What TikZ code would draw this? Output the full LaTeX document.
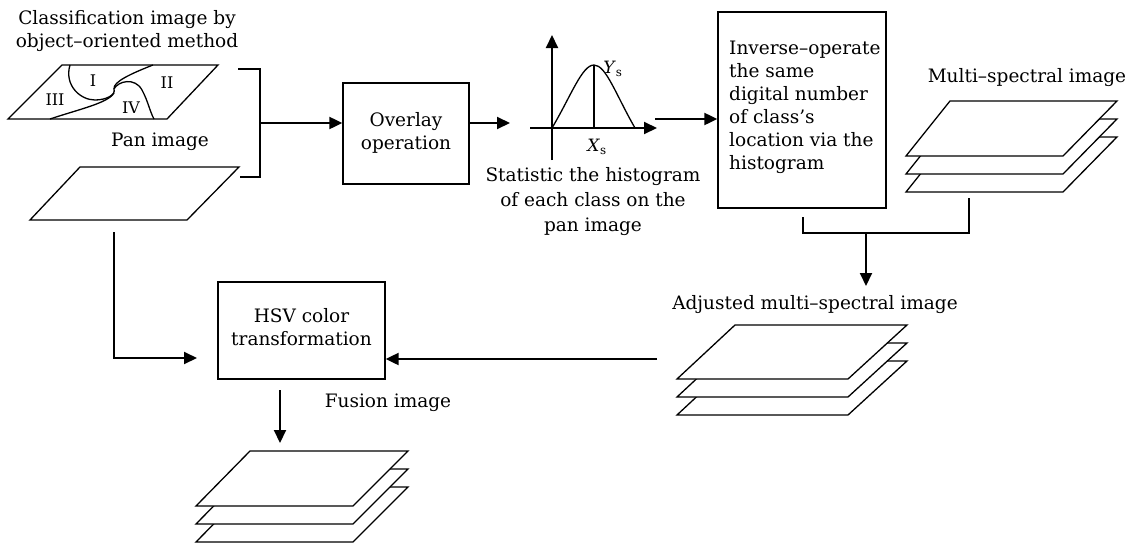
\documentclass[tikz,border=0pt]{standalone}
\usepackage{fontspec}
\setmainfont{DejaVu Serif}
\usetikzlibrary{arrows.meta}
\begin{document}
\begin{tikzpicture}[x=1pt,y=-1pt,
  txt/.style={font=\fontsize{18.5}{23}\selectfont, align=center, inner sep=0pt},
  small/.style={font=\fontsize{16}{18}\selectfont, inner sep=0pt},
  box/.style={draw, line width=1.3pt, inner sep=0pt},
  sheet/.style={draw, fill=white, line width=1.3pt, line join=miter},
  thin/.style={line width=1.3pt},
  arr/.style={line width=2pt, -{Triangle[length=13pt,width=12pt]}},
  link/.style={line width=1.5pt}]
\useasboundingbox (0,0) rectangle (1128,544);

% ---------- classification image ----------
\node[txt] (cls) at (127,31.5) {Classification image by\\object–oriented method};
\draw[sheet] (62,65) -- (218,65) -- (167,119) -- (8,119) -- cycle;
\draw[thin] (70,65) .. controls (64,85) and (80,100) .. (95,100)
            .. controls (106,100) and (116,95) .. (114,89)
            .. controls (113,82) and (130,74) .. (153,65);
\draw[thin] (50,119) .. controls (80,109) and (108,103) .. (114,93);
\draw[thin] (114,89) .. controls (118,81) and (135,77) .. (142,90)
            .. controls (148,101) and (150,112) .. (154,119);
\node[small] (r1) at (93,81) {I};
\node[small] (r2) at (167,83) {II};
\node[small] (r3) at (55,100) {III};
\node[small] (r4) at (131,108) {IV};

% ---------- pan image ----------
\node[txt] (pan) at (160,142) {Pan image};
\draw[sheet] (80,167) -- (239,167) -- (187,220) -- (30,220) -- cycle;
\coordinate (panout) at (114,232);

% ---------- bracket and overlay ----------
\coordinate (b1) at (260,123);
\draw[link] (238,69) -- (260,69) -- (260,177) -- (240,177);
\node[box, minimum width=126, minimum height=101] (ov) at (406,133.5) {};
\node[txt] (ovt) at (406,133) {Overlay\\operation};
\draw[arr] (b1) -- (ov.west |- b1);
\coordinate (ovout) at (469,123);
\coordinate (histin) at (510,123);
\draw[arr] (ovout) -- (histin);

% ---------- histogram ----------
\coordinate (o) at (552,128);
\coordinate (ytop) at (552,35);
\coordinate (ybot) at (552,160);
\coordinate (xl) at (530,128);
\coordinate (xr) at (657,128);
\coordinate (pk) at (594,65);
\draw[arr] (ybot) -- (ytop);
\draw[arr] (xl) -- (xr);
\draw[thin] (o) .. controls (571,96) and (582,65) .. (pk)
            .. controls (606,65) and (616,95) .. (635,128);
\draw[thin] (pk) -- (594,128);
\node[font=\fontsize{17}{18}\selectfont, inner sep=0pt] (ys) at (613,69) {\textit{Y}\textsubscript{s}};
\node[font=\fontsize{17}{18}\selectfont, inner sep=0pt] (xs) at (597,147) {\textit{X}\textsubscript{s}};
\node[txt, font=\fontsize{18.5}{25}\selectfont] (stat) at (593,202) {Statistic the histogram\\of each class on the\\pan image};

% ---------- inverse operation ----------
\node[box, minimum width=168, minimum height=196] (inv) at (802,110) {};
\node[txt, align=left, anchor=west] (invt) at (729,107)
  {Inverse–operate\\the same\\digital number\\of class’s\\location via the\\histogram};
\coordinate (histout) at (655,119);
\draw[arr] (histout) -- (inv.west |- histout);

% ---------- multi-spectral image ----------
\node[txt] (ms) at (1027,78) {Multi–spectral image};
\foreach \d in {36,18,0}
  \draw[sheet] (950,101+\d) -- (1117,101+\d) -- (1063,156+\d) -- (906,156+\d) -- cycle;

% ---------- merge to adjusted ----------
\coordinate (j1) at (803,217);
\coordinate (j2) at (969,198);
\coordinate (jm) at (866,233);
\draw[link] (j1) -- (803,233) -- (969,233) -- (j2);
\node[txt] (adj) at (815,305) {Adjusted multi–spectral image};
\draw[arr] (jm) -- (866,286);
\foreach \d in {36,18,0}
  \draw[sheet] (735,325+\d) -- (907,325+\d) -- (848,379+\d) -- (677,379+\d) -- cycle;

% ---------- HSV transformation ----------
\node[box, minimum width=167, minimum height=97] (hsv) at (301.5,330.5) {};
\node[txt] (hsvt) at (301.5,327.5) {HSV color\\transformation};
\coordinate (adjout) at (657,359);
\draw[arr] (adjout) -- (hsv.east |- adjout);
\draw[link] (panout) -- (114,358);
\draw[arr] (113.3,358) -- (197,358);

% ---------- fusion image ----------
\coordinate (fin) at (280,390);
\draw[arr] (fin) -- (280,443);
\node[txt] (fus) at (388,403) {Fusion image};
\foreach \d in {36,18,0}
  \draw[sheet] (250,451+\d) -- (408,451+\d) -- (353,506+\d) -- (196,506+\d) -- cycle;
\end{tikzpicture}
\end{document}
